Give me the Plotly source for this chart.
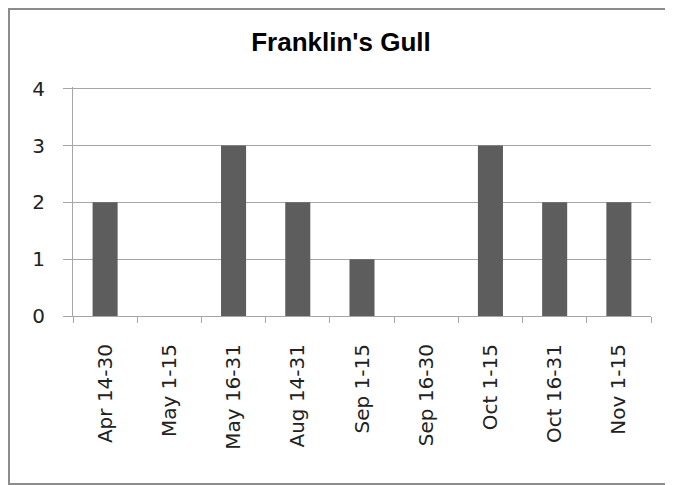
import plotly.graph_objects as go

# Franklin's Gull sightings per half-month period
periods = ["Apr 14-30", "May 1-15", "May 16-31", "Aug 14-31", "Sep 1-15",
           "Sep 16-30", "Oct 1-15", "Oct 16-31", "Nov 1-15"]
counts = [2, 0, 3, 2, 1, 0, 3, 2, 2]
y_ticks = [0, 1, 2, 3, 4]

# page body adds an 8px offset, so the figure is sized to fit the window
W, H = 665, 477
L, R, T, B = 65, 22, 79, 169
pw, ph = W - L - R, H - T - B

fig = go.Figure()
fig.add_trace(go.Bar(x=periods, y=counts, marker=dict(color="#5d5d5d", line=dict(width=0)),
                     width=0.39, showlegend=False))

grid = "#a6a6a6"

# chart frame: left, top and bottom edges only (right edge is off the image)
fx0 = -(L - 1) / pw
fx1 = (W - L) / pw + 0.05
fy0 = -(476 - T - ph) / ph
fy1 = 1 + (T - 1) / ph
frame = f"M {fx1} {fy1} L {fx0} {fy1} L {fx0} {fy0} L {fx1} {fy0}"

fig.update_layout(
    width=W, height=H,
    margin=dict(l=L, r=R, t=T, b=B),
    paper_bgcolor="white", plot_bgcolor="white",
    title=dict(text="<b>Franklin's Gull</b>", x=333 / W, xanchor="center", y=1 - 34 / H, yanchor="middle",
               font=dict(family="Liberation Sans", size=26, color="black")),
    xaxis=dict(type="category", tickangle=-90, tickson="boundaries", ticks="outside", ticklen=6,
               tickcolor=grid, showline=True, linecolor=grid, linewidth=1, showgrid=False,
               ticklabelstandoff=19,
               tickfont=dict(size=20, family="DejaVu Sans", color="#222")),
    yaxis=dict(range=[0, 4.03], tickvals=y_ticks, ticks="outside", ticklen=9, tickcolor=grid,
               showgrid=True, gridcolor=grid, gridwidth=1, showline=True, linecolor=grid,
               linewidth=1, zeroline=False, ticklabelstandoff=14,
               tickfont=dict(size=20, family="DejaVu Sans", color="#222")),
    shapes=[dict(type="path", xref="paper", yref="paper", path=frame,
                 line=dict(color="#8c8c8c", width=2), layer="below")],
)

fig.write_html("out.html")
